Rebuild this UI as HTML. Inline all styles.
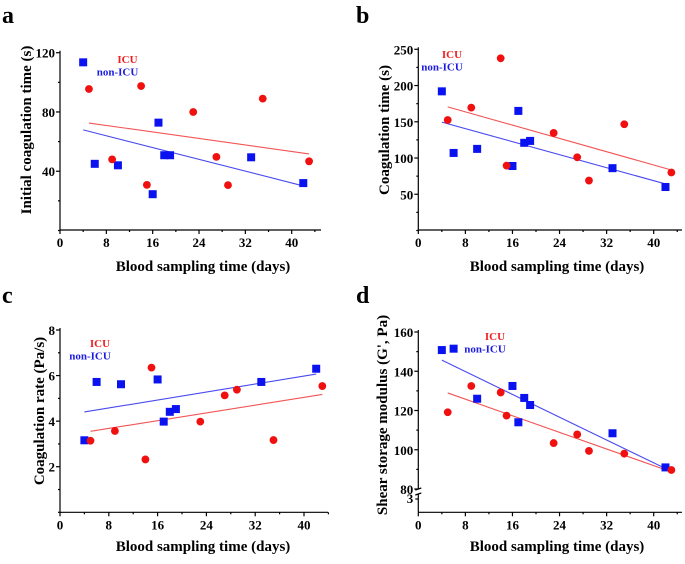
<!DOCTYPE html>
<html><head><meta charset="utf-8"><style>
body{margin:0;background:#fff;width:685px;height:559px;overflow:hidden}
svg text{font-family:"Liberation Serif",serif;font-weight:bold}
</style></head><body>
<svg id="fig" width="685" height="559" viewBox="0 0 685 559" xmlns="http://www.w3.org/2000/svg"></svg>
<script>
// shared x data (days)
const icuDays = [5, 9, 14, 15, 23, 27, 29, 35, 43];
const nonIcuDays = [4, 6, 10, 16, 17, 18, 19, 33, 42];
const xTicks = [0, 8, 16, 24, 32, 40];
// panel a
const aIcu = [95.5, 48, 97.5, 30.8, 80, 49.7, 30.6, 89, 46.7];
const aNonIcu = [113.5, 45, 44, 24.5, 72.8, 50.8, 50.8, 49.4, 32];
const aTicks = [40, 80, 120];
// panel b
const bIcu = [152.5, 169.5, 237.6, 89.5, 134.6, 101, 68.9, 146.6, 80];
const bNonIcu = [192, 107, 112.6, 89, 165, 121, 123.6, 86, 60];
const bTicks = [50, 100, 150, 200, 250];
// panel c
const cIcu = [3.14, 3.57, 2.32, 6.35, 3.98, 5.13, 5.38, 3.17, 5.54];
const cNonIcu = [3.16, 5.72, 5.62, 5.83, 3.98, 4.41, 4.53, 5.72, 6.3];
const cTicks = [2, 4, 6, 8];
// panel d
const dIcu = [119.1, 132.5, 129.2, 117.4, 103.4, 107.8, 99.4, 98, 89.7];
const dNonIcu = [150.8, 151.5, 126, 132.5, 114, 126.4, 122.8, 108.4, 91];
const dTicks = [80, 100, 120, 140, 160];

const NS = "http://www.w3.org/2000/svg";
const svg = document.getElementById('fig');
function mk(tag, attrs, parent, txt){
  const e = document.createElementNS(NS, tag);
  for (const k in attrs) e.setAttribute(k, attrs[k]);
  if (txt !== undefined) e.textContent = txt;
  (parent || svg).appendChild(e);
  return e;
}
function fit(xs, ys){
  const n = xs.length; let mx=0,my=0;
  for(let i=0;i<n;i++){mx+=xs[i];my+=ys[i];}
  mx/=n;my/=n; let sxy=0,sxx=0;
  for(let i=0;i<n;i++){sxy+=(xs[i]-mx)*(ys[i]-my);sxx+=(xs[i]-mx)**2;}
  const b=sxy/sxx; return x=>my+b*(x-mx);
}
function panel(p){
  const g = mk('g', {});
  
  
  const X = v => p.x0 + (v / 40) * p.x40w;
  const Y = v => p.yBot - (v - p.yMin) / (p.yMax - p.yMin) * (p.yBot - p.yTop);
  const letter = mk('text', {x:p.lx, y:p.ly, 'font-size':24, fill:'#000'}, g, p.id);
  
  
  // axes
  const ax = mk('g', {stroke:'#000','stroke-width':1.2,fill:'none'}, g);
  
  
  mk('line', {x1:p.x0, y1:p.axBot, x2:p.xEnd, y2:p.axBot}, ax);
  if (p.brk){
    mk('line', {x1:p.x0, y1:p.yTop-2, x2:p.x0, y2:p.yBot}, ax);
    mk('line', {x1:p.x0, y1:p.yBot+5, x2:p.x0, y2:p.axBot}, ax);
    mk('line', {x1:p.x0-3, y1:p.yBot+1, x2:p.x0+3, y2:p.yBot-1}, ax);
    mk('line', {x1:p.x0-3, y1:p.yBot+6, x2:p.x0+3, y2:p.yBot+4}, ax);
    mk('line', {x1:p.x0-3, y1:p.yBot+10, x2:p.x0, y2:p.yBot+10}, ax);
    mk('text', {x:p.x0-5, y:p.yBot+14, 'font-size':13, 'text-anchor':'end', fill:'#000', stroke:'none'}, g, '3');
  } else {
    mk('line', {x1:p.x0, y1:p.yTop-2, x2:p.x0, y2:p.axBot}, ax);
  }
  xTicks.forEach(t => {
    mk('line', {x1:X(t), y1:p.axBot, x2:X(t), y2:p.axBot+4}, ax);
    mk('line', {x1:X(t+4), y1:p.axBot, x2:X(t+4), y2:p.axBot+2}, ax);
    const tl = mk('text', {x:X(t), y:p.axBot+17, 'font-size':13, 'text-anchor':'middle', fill:'#000'}, g, t);
    
    
  });
  const step = p.ticks[1]-p.ticks[0];
  const minorStart = p.brk ? p.ticks[0] : p.ticks[0]-step;
  for (let v = minorStart; v <= p.yMax; v += step/2){
    if (v < p.yMin) continue;
    const major = p.ticks.includes(v);
    mk('line', {x1:p.x0-(major?4:2), y1:Y(v), x2:p.x0, y2:Y(v)}, ax);
  }
  p.ticks.forEach(t => {
    const tl = mk('text', {x:p.x0-5, y:Y(t)+5, 'font-size':13, 'text-anchor':'end', fill:'#000'}, g, t);
    
    
  });
  const xt = mk('text', {x:p.xtx, y:p.xty, 'font-size':15, 'text-anchor':'middle', fill:'#000'}, g, 'Blood sampling time (days)');
  
  
  const yt = mk('text', {x:0, y:0, 'font-size':15, 'text-anchor':'middle', fill:'#000', transform:`translate(${p.ytx},${p.yty}) rotate(-90)`}, g, p.ytitle);
  
  
  // fit lines
  const fr = fit(icuDays, p.icu), fb = fit(nonIcuDays, p.non);
  const l1 = mk('line', {x1:X(5), y1:Y(fr(5)), x2:X(43), y2:Y(fr(43)), stroke:'#f25555','stroke-width':1.1}, g);
  
  
  const l2 = mk('line', {x1:X(4), y1:Y(fb(4)), x2:X(42), y2:Y(fb(42)), stroke:'#4a4aef','stroke-width':1.1}, g);
  
  
  // points
  nonIcuDays.forEach((d,i) => {
    const r = mk('rect', {x:X(d)-4, y:Y(p.non[i])-4, width:8, height:8, fill:'#0a12f0'}, g);
    
    
  });
  icuDays.forEach((d,i) => {
    const c = mk('circle', {cx:X(d), cy:Y(p.icu[i]), r:3.9, fill:'#f01010'}, g);
    
    
  });
  const li = mk('text', {x:p.legx, y:p.legy, 'font-size':11, 'text-anchor':'middle', fill:'#f02020'}, g, 'ICU');
  
  
  const ln = mk('text', {x:p.legx-10, y:p.legy+12.5, 'font-size':11, 'text-anchor':'middle', fill:'#1a1ae0'}, g, 'non-ICU');
  
  
}
panel({id:'a', x0:60, x40w:231.7, xEnd:321, yTop:52.7, yBot:230.5, axBot:230, yMin:0, yMax:120, ticks:aTicks,
  icu:aIcu, non:aNonIcu, lx:2, ly:23, xtx:203, xty:271, ytx:31, yty:130, ytitle:'Initial coagulation time (s)', legx:127.5, legy:63});
panel({id:'b', x0:418.3, x40w:235.4, xEnd:682, yTop:49.3, yBot:230.5, axBot:230, yMin:0, yMax:250, ticks:bTicks,
  icu:bIcu, non:bNonIcu, lx:356, ly:23, xtx:557, xty:271, ytx:389, yty:130, ytitle:'Coagulation time (s)', legx:452, legy:58});
panel({id:'c', x0:60, x40w:244, xEnd:328, yTop:330, yBot:512.3, axBot:512.3, yMin:0, yMax:8, ticks:cTicks,
  icu:cIcu, non:cNonIcu, lx:2, ly:303, xtx:203, xty:551, ytx:44, yty:411, ytitle:'Coagulation rate (Pa/s)', legx:100, legy:347});
panel({id:'d', x0:418.3, x40w:235.4, xEnd:682, yTop:332, yBot:489, axBot:512.3, yMin:80, yMax:160, ticks:dTicks, brk:true,
  icu:dIcu, non:dNonIcu, lx:356, ly:303, xtx:557, xty:551, ytx:387, yty:415, ytitle:"Shear storage modulus (G', Pa)", legx:495, legy:340});
</script>
</body></html>
